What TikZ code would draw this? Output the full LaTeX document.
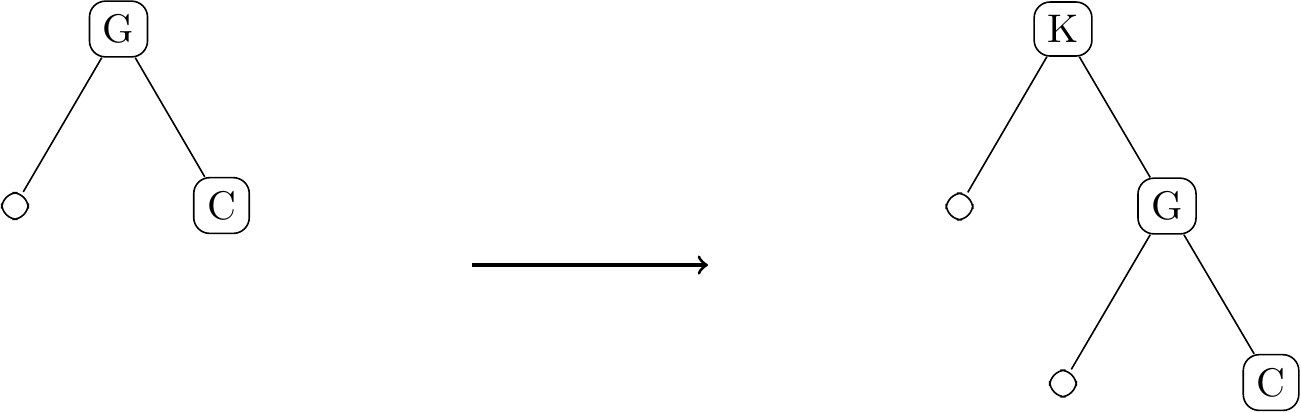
\documentclass[tikz,border=0pt]{standalone}
\begin{document}
\begin{tikzpicture}[x=0.25pt,y=-0.25pt,
  tn/.style={draw,rounded corners=4pt,inner sep=0.3333em},
  en/.style={draw,rounded corners=4pt,inner sep=0.3333em},
  edge/.style={draw}]
\useasboundingbox (0,0) rectangle (1301,412);
% left tree
\node[tn] (lg) at (118.5,29) {G};
\node[en] (le) at (15,206) {};
\node[tn] (lc) at (221.5,205.5) {C};
\draw (lg) -- (le);
\draw (lg) -- (lc);
% arrow
\coordinate (a1) at (472,265);
\coordinate (a2) at (708,265);
\draw[thick,->] (a1) -- (a2);
% right tree
\node[tn] (rk) at (1063,29) {K};
\node[en] (re1) at (959.5,206.5) {};
\node[tn] (rg) at (1167,206) {G};
\node[en] (re2) at (1063,383.5) {};
\node[tn] (rc) at (1271,382.5) {C};
\draw (rk) -- (re1);
\draw (rk) -- (rg);
\draw (rg) -- (re2);
\draw (rg) -- (rc);
\end{tikzpicture}
\end{document}
